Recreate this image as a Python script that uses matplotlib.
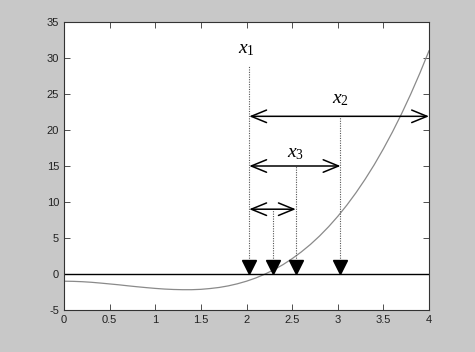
import matplotlib
matplotlib.use("Agg")
import matplotlib.pyplot as plt

# curve samples
xs = [0.0, 0.1, 0.2, 0.3, 0.4, 0.5, 0.6, 0.7, 0.8, 0.9,
      1.0, 1.1, 1.2, 1.3, 1.4, 1.5, 1.6, 1.7, 1.8, 1.9,
      2.0, 2.1, 2.2, 2.3, 2.4, 2.5, 2.6, 2.7, 2.8, 2.9,
      3.0, 3.1, 3.2, 3.3, 3.4, 3.5, 3.6, 3.7, 3.8, 3.9, 4.0]
ys = [-1.00, -1.02, -1.07, -1.15, -1.26, -1.38, -1.50, -1.64, -1.77, -1.89,
      -2.00, -2.09, -2.15, -2.18, -2.18, -2.13, -2.02, -1.87, -1.65, -1.36,
      -1.00, -0.56, -0.03, 0.59, 1.30, 2.13, 3.06, 4.10, 5.27, 6.57,
      8.00, 9.57, 11.29, 13.16, 15.18, 17.38, 19.74, 22.27, 24.99, 27.90, 31.00]

# iterates and the heights of the dotted drop lines
x_iter = [2.03, 3.03, 2.54, 2.29]
drop_top = [28.9, 21.9, 15.0, 9.0]

# interval arrows: (left, right, height)
arrows = [(2.03, 4.0, 21.9), (2.03, 3.03, 15.0), (2.03, 2.54, 9.0)]

# labels
labels = [r"$x_{\mathit{1}}$", r"$x_{\mathit{2}}$", r"$x_{\mathit{3}}$"]
label_x = [2.0, 3.03, 2.54]
label_y = [31.2, 24.2, 16.8]

plt.rcParams['font.family'] = ['Liberation Sans', 'DejaVu Sans']
plt.rcParams['mathtext.fontset'] = 'custom'
plt.rcParams['mathtext.it'] = 'Liberation Serif:italic'
plt.rcParams['mathtext.rm'] = 'Liberation Serif'
plt.rcParams['axes.unicode_minus'] = False

fig = plt.figure(figsize=(4.75, 3.52), dpi=100, facecolor='#c8c8c8')
ax = fig.add_axes([64 / 475, 1 - 310 / 352, 365 / 475, 288 / 352])
ax.set_facecolor('white')

ax.plot(xs, ys, color='#8a8a8a', lw=0.9)
ax.axhline(0, color='black', lw=1.0)

for x, top in zip(x_iter, drop_top):
    ax.plot([x, x], [0.8, top], color='#555555', lw=0.8, linestyle=(0, (1, 1.2)))
    ax.plot(x, 1.0, marker='v', color='black', markersize=10, linestyle='none')

for a, b, h in arrows:
    ax.annotate('', xy=(b, h), xytext=(a, h),
                arrowprops=dict(arrowstyle='<->,head_length=1.1,head_width=0.45',
                                color='black', lw=1.1, shrinkA=0, shrinkB=0))

for t, lx, ly in zip(labels, label_x, label_y):
    ax.text(lx, ly, t, fontsize=14, ha='center', va='center')

ax.set_xlim(0, 4)
ax.set_ylim(-5, 35)
ax.set_xticks([0, 0.5, 1, 1.5, 2, 2.5, 3, 3.5, 4])
ax.set_xticklabels(['0', '0.5', '1', '1.5', '2', '2.5', '3', '3.5', '4'])
ax.set_yticks(range(-5, 36, 5))
ax.tick_params(direction='in', top=True, right=True, labelsize=8, length=4,
               width=0.6, colors='#333333', labelcolor='#222222')
for s in ax.spines.values():
    s.set_linewidth(0.8)
    s.set_color('#333333')

fig.savefig('out.png', dpi=100, facecolor=fig.get_facecolor())
